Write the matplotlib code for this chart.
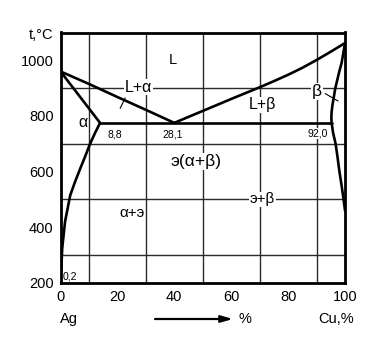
import matplotlib
matplotlib.use("Agg")
import matplotlib.pyplot as plt
import numpy as np

plt.rcParams['font.family'] = ['Liberation Sans', 'DejaVu Sans']

# --- data (x = Cu, %, t = temperature, °C) ---
liq_ag_x = [0, 10, 20, 30, 40]
liq_ag_t = [960, 915, 868, 822, 775]

liq_cu_x = [40, 44.4, 50, 56.3, 60, 65, 70, 75, 80, 85, 90, 95, 100]
liq_cu_t = [775, 794, 818, 845, 861, 882, 903, 925, 948, 973, 1001, 1031, 1062]

sol_a_x = [0, 13.9]
sol_a_t = [960, 775]

solv_a_x = [13.9, 12.2, 10.4, 8.5, 6.9, 5.0, 3.4, 1.6, 0.6, 0.2, 0.1]
solv_a_t = [775, 740, 700, 650, 610, 560, 514, 420, 324, 230, 200]

beta_x = [100, 99.4, 98.8, 98.0, 97.3, 96.6, 96.1, 95.6, 95.3, 95.2, 95.3,
          95.8, 96.7, 97.4, 98.0, 98.8, 99.5, 100]
beta_t = [1062, 1025, 990, 960, 930, 900, 870, 840, 815, 795, 775,
          740, 700, 650, 603, 550, 500, 460]

eut_x = [13.9, 95.3]
eut_t = [775, 775]

x_ticks = [0, 20, 40, 60, 80, 100]
y_ticks = [200, 400, 600, 800, 1000]

labels = [
    ("L", 39.5, 1000, 10.5),
    ("L+α", 27.4, 904, 11.5),
    ("α", 8.0, 775, 11.5),
    ("L+β", 71.0, 840, 11.5),
    ("β", 90.2, 888, 12.5),
    ("э(α+β)", 47.5, 636, 12.5),
    ("α+э", 25.0, 452, 11),
    ("э+β", 71.0, 500, 11),
]
small_labels = [
    ("8,8", 19.0, 733),
    ("28,1", 39.5, 733),
    ("92,0", 90.4, 737),
    ("0,2", 3.3, 224),
]

W, H = 374, 352
fig = plt.figure(figsize=(W / 100, H / 100), dpi=100)
ax = fig.add_axes([60.5 / W, 1 - 282.8 / H, (345 - 60.5) / W, (282.8 - 32.5) / H])
ax.set_xlim(0, 100)
ax.set_ylim(200, 1100)

ax.set_xticks(x_ticks)
ax.set_yticks(y_ticks)
ax.set_xticks(np.arange(0, 101, 10), minor=True)
ax.set_yticks(np.arange(200, 1101, 100), minor=True)
ax.grid(which='minor', color='#2a2a2a', linewidth=1.0, zorder=0)
ax.tick_params(which='both', length=0)
ax.tick_params(axis='x', pad=5, labelsize=10.5)
ax.tick_params(axis='y', pad=5, labelsize=10.5)
for s in ax.spines.values():
    s.set_linewidth(2.0)
    s.set_zorder(5)

lw = 1.9
kw = dict(color='black', linewidth=lw, zorder=3, solid_capstyle='round', solid_joinstyle='round')
ax.plot(liq_ag_x, liq_ag_t, **kw)
ax.plot(liq_cu_x, liq_cu_t, **kw)
ax.plot(sol_a_x, sol_a_t, **kw)
ax.plot(solv_a_x, solv_a_t, **kw)
ax.plot(beta_x, beta_t, **kw)
ax.plot(eut_x, eut_t, **kw)

for txt, x, y, fs in labels:
    ax.text(x, y, txt, fontsize=fs, ha='center', va='center', zorder=4,
            bbox=dict(facecolor='white', edgecolor='none', pad=0.5))

for txt, x, y in small_labels:
    ax.text(x, y, txt, fontsize=7.5, ha='center', va='center', zorder=4,
            family=['Liberation Sans Narrow', 'Liberation Sans', 'DejaVu Sans'],
            bbox=dict(facecolor='white', edgecolor='none', pad=0.3))

# leader lines
ax.plot([22.7, 21.0], [864, 828], color='black', linewidth=0.8, zorder=4)
ax.plot([93.1, 97.5], [880, 854], color='black', linewidth=0.8, zorder=4)

# outer labels
fig.text(53 / W, 1 - 35 / H, "t,°C", fontsize=10.5, ha='right', va='center')
fig.text(69 / W, 1 - 319 / H, "Ag", fontsize=10.5, ha='center', va='center')
fig.text(245 / W, 1 - 319 / H, "%", fontsize=10.5, ha='center', va='center')
fig.text(336 / W, 1 - 319 / H, "Cu,%", fontsize=10.5, ha='center', va='center')
fig.add_artist(matplotlib.patches.FancyArrowPatch(
    (155 / W, 1 - 319 / H), (233 / W, 1 - 319 / H), transform=fig.transFigure,
    arrowstyle='-|>,head_length=7,head_width=2.0', color='black', linewidth=1.6,
    shrinkA=0, shrinkB=0))

fig.savefig("out.png", dpi=100)
